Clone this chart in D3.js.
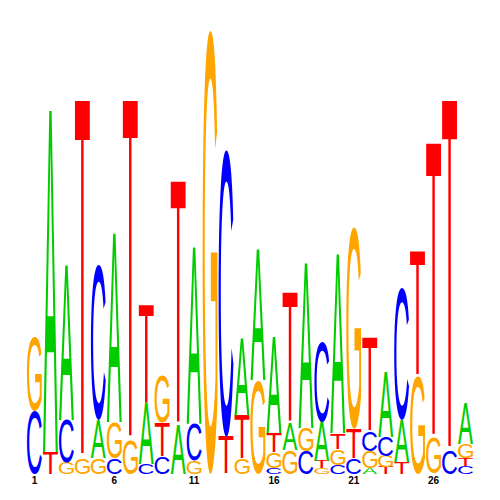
<!DOCTYPE html>
<html>
<head>
<meta charset="utf-8">
<script src="https://cdn.jsdelivr.net/npm/d3@7"></script>
<style>
  html, body { margin: 0; padding: 0; background: #fff; }
  svg { display: block; }
</style>
</head>
<body>
<svg id="chart" width="500" height="500"></svg>
<script>
// Sequence positions 1..28
const positions = d3.range(1, 29);
// Information content (bits) for each base at each position
const heightA = [0,1.541,0.698,0,0.171,0.851,0,0.275,0,0.221,0.797,0,0,0.347,0.586,0.432,0.122,0.743,0.176,0.806,0,0.027,0.293,0.189,0,0,0,0.185];
const heightC = [0.284,0,0.194,0,0.698,0.072,0,0.045,0.077,0,0.167,0,1.293,0,0,0.027,0,0.104,0.360,0.041,0.068,0.090,0.086,0.595,0,0,0.104,0.036];
const heightG = [0.333,0,0.050,0.072,0.072,0.162,0.153,0,0.216,0,0.059,2.0,0,0.068,0.423,0.072,0.108,0.104,0.027,0.072,0.910,0.077,0.050,0,0.441,0.162,0,0.063];
const heightT = [0,0.099,0,1.613,0,0,1.532,0.446,0.153,1.099,0,0,0.167,0.198,0,0.086,0.586,0,0.032,0.072,0.135,0.423,0.032,0.054,0.559,1.329,1.581,0.036];
const bases = ["A", "C", "G", "T"];
const baseColors = ["#00CC00", "#0000FF", "#FFA500", "#FF0000"];
const tickLabels = ["1", "6", "11", "16", "21", "26"];

const series = { A: heightA, C: heightC, G: heightG, T: heightT };

const svg = d3.select("#chart");
const x = d3.scaleBand().domain(positions).range([26, 474]).paddingInner(0.0625).paddingOuter(0.0625);
const y = d3.scaleLinear().domain([0, 2]).range([474, 30]);
const color = d3.scaleOrdinal().domain(bases).range(baseColors);

// Measure tight glyph bounds
const FONT = "'Liberation Sans', Arial, Helvetica, sans-serif";
const ctx = document.createElement("canvas").getContext("2d");
ctx.font = "100px " + FONT;
const metrics = {};
bases.forEach(b => {
  const m = ctx.measureText(b);
  metrics[b] = {
    left: m.actualBoundingBoxLeft,
    w: m.actualBoundingBoxLeft + m.actualBoundingBoxRight,
    asc: m.actualBoundingBoxAscent,
    desc: m.actualBoundingBoxDescent,
    h: m.actualBoundingBoxAscent + m.actualBoundingBoxDescent
  };
});

// Build stacks: smallest at bottom
const stacks = positions.map((p, i) => {
  const items = bases.map((b, k) => ({ base: b, k, v: series[b][i] }))
    .filter(d => d.v > 0)
    .sort((a, b) => a.v - b.v || a.k - b.k);
  let acc = 0;
  items.forEach(d => { d.y0 = acc; acc += d.v; d.y1 = acc; d.pos = p; });
  return items;
});

const letters = svg.append("g").attr("class", "letters");
stacks.forEach(items => {
  items.forEach(d => {
    const m = metrics[d.base];
    const x0 = x(d.pos), w0 = x.bandwidth();
    const yb = y(d.y0), yt = y(d.y1);
    const h0 = yb - yt;
    letters.append("text")
      .attr("transform", `translate(${x0},${yb}) scale(${w0 / m.w},${h0 / m.h})`)
      .attr("x", m.left)
      .attr("y", -m.desc)
      .attr("font-family", FONT)
      .attr("font-size", 100)
      .attr("fill", color(d.base))
      .text(d.base);
  });
});

// Position labels
const axis = d3.axisBottom(x)
  .tickValues(tickLabels.map(Number))
  .tickSize(0)
  .tickPadding(0)
  .tickFormat((d, i) => tickLabels[i]);
const ax = svg.append("g").attr("transform", "translate(0,477)").call(axis);
ax.select(".domain").remove();
ax.selectAll("text")
  .attr("font-family", FONT)
  .attr("font-weight", "bold")
  .attr("font-size", 10)
  .attr("fill", "#000");
</script>
</body>
</html>
